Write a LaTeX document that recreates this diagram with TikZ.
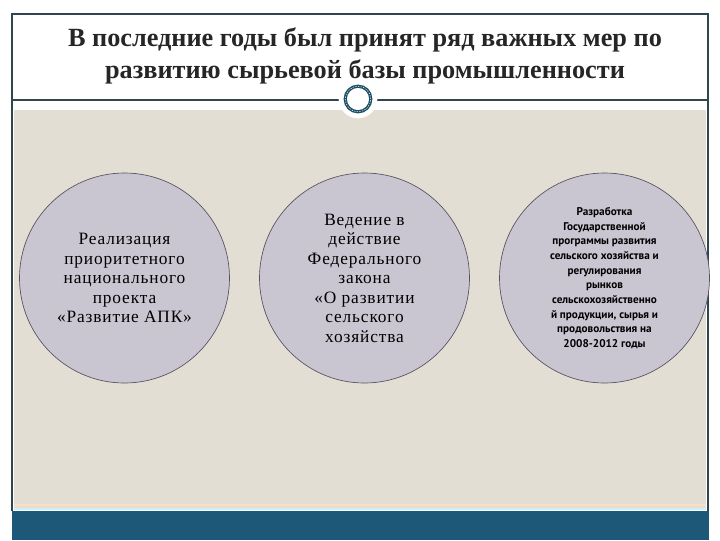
\documentclass[tikz,border=0pt]{standalone}
\usepackage{fontspec}
\setmainfont{Liberation Serif}
\newfontfamily\smallsans{PT Sans}
\newfontfamily\widserif[LetterSpace=5]{Liberation Serif}
\usetikzlibrary{positioning}

\definecolor{bggray}{HTML}{E2DED3}
\definecolor{circfill}{HTML}{C9C6D2}
\definecolor{circline}{HTML}{55515F}
\definecolor{framecol}{HTML}{2E4650}
\definecolor{barcol}{HTML}{1E5878}
\definecolor{ringcol}{HTML}{1B4E64}

\begin{document}
\begin{tikzpicture}[x=0.75pt,y=-0.75pt,
  circ/.style={circle, draw=circline, line width=0.5pt, fill=circfill,
    minimum size=157.5pt, inner sep=0pt, align=center}]
\useasboundingbox (0,0) rectangle (720,540);
\fill[white] (0,0) rectangle (720,540);

% frame and background
\fill[bggray] (14,110) rectangle (706,508);
\draw[orange!25, line width=0.8pt] (14,505) -- (706,505);
\draw[cyan!20, line width=0.8pt] (14,509) -- (706,509);
\draw[framecol, line width=0.8pt] (12,511) -- (12,14) -- (708,14) -- (708,511);
\draw[framecol, line width=0.8pt] (12,100) -- (708,100);
\fill[barcol] (11.5,511) rectangle (708.5,540);

% ring on the line
\fill[white] (358,99) circle (14.5pt);
\draw[ringcol, line width=2.4pt] (358,99) circle (9.6pt);
\draw[white, line width=0.4pt, dash pattern=on 1pt off 1pt] (358,99) circle (9.6pt);

% title
\node[align=center, font=\fontsize{19.7}{24}\selectfont\bfseries, text=black!85] (title)
  at (365,56) {В последние годы был принят ряд важных мер по\\развитию сырьевой базы промышленности};

% circles
\node[circ, font=\widserif\fontsize{13}{14.6}\selectfont] (apk) at (124.5,278)
  {Реализация\\приоритетного\\национального\\проекта\\«Развитие АПК»};
\node[circ, font=\widserif\fontsize{13}{14.6}\selectfont] (zakon) [right=22pt of apk]
  {Ведение в\\действие\\Федерального\\закона\\«О развитии\\сельского\\хозяйства};
\node[circ, font=\smallsans\fontsize{8.4}{11}\selectfont\bfseries] (progr) [right=22pt of zakon]
  {Разработка\\Государственной\\программы развития\\сельского хозяйства и\\регулирования\\рынков\\сельскохозяйственно\\й продукции, сырья и\\продовольствия на\\2008-2012 годы};

\end{tikzpicture}
\end{document}
